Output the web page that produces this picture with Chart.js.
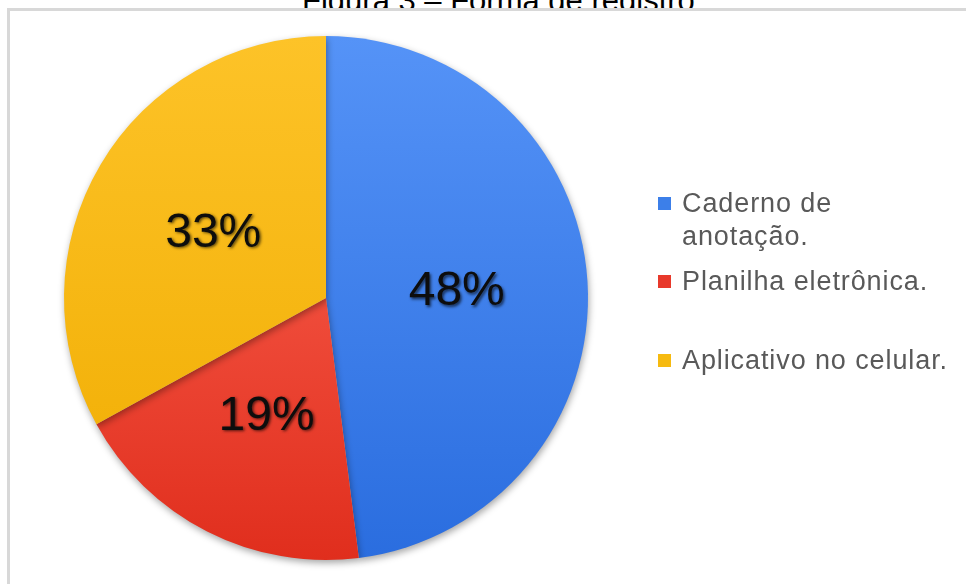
<!DOCTYPE html>
<html lang="pt-BR">
<head>
<meta charset="utf-8">
<title>Forma de registro</title>
<script src="https://cdn.jsdelivr.net/npm/chart.js@4.4.1/dist/chart.umd.min.js"></script>
<style>
  html, body { margin: 0; padding: 0; background: #fff; overflow: hidden; }
  body { width: 966px; height: 584px; position: relative; font-family: 'Liberation Sans', Arial, sans-serif; }
  #titulo { position: absolute; left: 302px; top: -15px; font-size: 31px; line-height: 31px; color: #000; white-space: nowrap; }
  #quadro { position: absolute; left: 7px; top: 8px; width: 1100px; height: 700px; border: 3px solid #d8d8d8; background: #fff; }
  #grafico { position: absolute; left: 0; top: 0; }
</style>
</head>
<body>
<div id="titulo">Figura 3 – Forma de registro</div>
<div id="quadro"></div>
<canvas id="grafico" width="966" height="584"></canvas>
<script>
// respostas: como o registro é feito
const categorias = [['Caderno de', 'anotação.'], 'Planilha eletrônica.', 'Aplicativo no celular.'];
const percentuais = [48, 19, 33];

// cores das fatias (degradê de cima para baixo) e dos quadrinhos da legenda
const corTopo = ['#5593f7', '#ff6a58', '#fdc328'];
const corBase = ['#2a6ddf', '#e02e1d', '#f0ac00'];
const amostra = ['#3c7fe9', '#e8392b', '#f6ba10'];

const FONTE = '"Liberation Sans", Arial, sans-serif';

function gradiente(chart, i) {
  const area = chart.chartArea;
  if (!area || i === undefined) return amostra[i] || '#999';
  const g = chart.ctx.createLinearGradient(0, area.top, 0, area.bottom);
  g.addColorStop(0, corTopo[i]);
  g.addColorStop(1, corBase[i]);
  return g;
}

// sombra suave embaixo da pizza
const sombraPizza = {
  id: 'sombraPizza',
  beforeDatasetsDraw(chart) {
    const ctx = chart.ctx;
    ctx.save();
    ctx.shadowColor = 'rgba(0, 0, 0, 0.35)';
    ctx.shadowBlur = 7;
    ctx.shadowOffsetX = 1;
    ctx.shadowOffsetY = 3;
  },
  afterDatasetsDraw(chart) {
    chart.ctx.restore();
  },
};

// percentuais no meio de cada fatia
const rotulos = {
  id: 'rotulos',
  afterDatasetsDraw(chart) {
    const ctx = chart.ctx;
    const meta = chart.getDatasetMeta(0);
    ctx.save();
    ctx.font = '48px ' + FONTE;
    ctx.fillStyle = '#0d0d0d';
    ctx.textAlign = 'center';
    ctx.textBaseline = 'middle';
    ctx.shadowColor = 'rgba(0, 0, 0, 0.65)';
    ctx.shadowBlur = 3;
    ctx.shadowOffsetX = 1.5;
    ctx.shadowOffsetY = 1.5;
    meta.data.forEach((arc, i) => {
      const p = arc.tooltipPosition();
      ctx.fillText(percentuais[i] + '%', p.x, p.y + 2);
    });
    ctx.restore();
  },
};

// legenda à direita, com rótulo de duas linhas no primeiro item
const legenda = {
  id: 'legenda',
  afterDraw(chart) {
    const ctx = chart.ctx;
    const linhaBase = [212, 290, 369];
    ctx.save();
    ctx.font = '27px ' + FONTE;
    ctx.letterSpacing = '0.9px';
    ctx.textBaseline = 'alphabetic';
    chart.data.labels.forEach((rotulo, i) => {
      const linhas = Array.isArray(rotulo) ? rotulo : [rotulo];
      const y = linhaBase[i];
      ctx.fillStyle = amostra[i];
      ctx.fillRect(658, y - 15, 13, 13);
      ctx.fillStyle = '#595959';
      linhas.forEach((t, k) => ctx.fillText(t, 682, y + k * 33));
    });
    ctx.restore();
  },
};

new Chart(document.getElementById('grafico'), {
  type: 'pie',
  data: {
    labels: categorias,
    datasets: [{
      data: percentuais,
      backgroundColor: (ctx) => gradiente(ctx.chart, ctx.dataIndex),
      borderWidth: 0,
      clip: false,
    }],
  },
  options: {
    responsive: false,
    animation: false,
    layout: { padding: { top: 36, bottom: 24, left: 64, right: 378 } },
    plugins: {
      legend: { display: false },
      tooltip: { enabled: false },
    },
  },
  plugins: [sombraPizza, rotulos, legenda],
});
</script>
</body>
</html>
